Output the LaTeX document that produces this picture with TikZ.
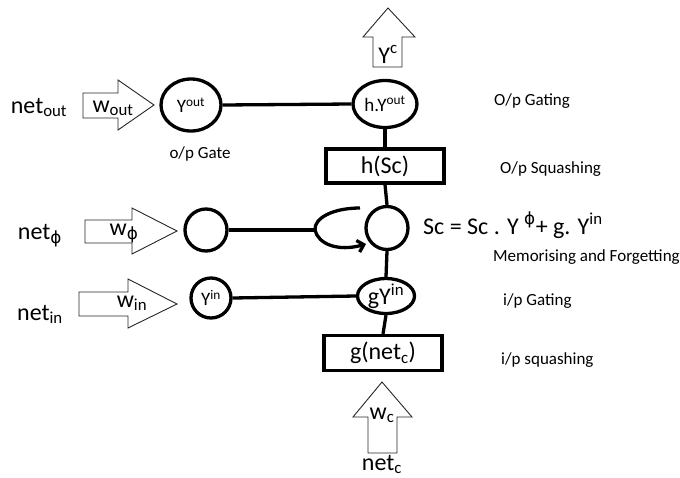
\documentclass[tikz,border=0pt]{standalone}
\usepackage{fontspec}
\setmainfont{Carlito}
\newfontfamily\dvphi{DejaVu Sans}
\newcommand{\phisym}{{\dvphi ϕ}}
\usetikzlibrary{shapes.geometric,arrows.meta}
\begin{document}
\begin{tikzpicture}[x=1pt,y=-1pt,
  thickln/.style={line width=3.3pt,black},
  blk/.style={draw=black!85,line width=0.9pt,fill=white},
  rnd/.style={ellipse,draw,line width=3.3pt,inner sep=0pt},
  sqbox/.style={rectangle,draw,line width=3.3pt,inner sep=0pt},
  big/.style={font=\fontsize{24}{28}\selectfont},
  mid/.style={font=\fontsize{19}{22}\selectfont},
  lbl/.style={font=\fontsize{17}{20}\selectfont,anchor=base west,inner sep=0pt},
  txt/.style={inner sep=0pt,anchor=base}]
\useasboundingbox (0,0) rectangle (680,477);

% ---- block arrows ----
\draw[blk] (83,93) -- (118,93) -- (118,80) -- (154,105) -- (118,130) -- (118,118) -- (83,118) -- cycle;
\draw[blk] (85,220) -- (132,220) -- (132,208) -- (177,231) -- (132,254) -- (132,243) -- (85,243) -- cycle;
\draw[blk] (79,292) -- (128,292) -- (128,279) -- (177,304) -- (128,328) -- (128,316) -- (79,316) -- cycle;
\draw[blk] (373,67) -- (373,37) -- (363,37) -- (388,8) -- (415,37) -- (402,37) -- (402,67) -- cycle;
\draw[blk] (368,453) -- (368,417) -- (353,417) -- (382,382) -- (412,417) -- (397,417) -- (397,453) -- cycle;

% ---- arrow texts ----
\node[big,txt] (wout) at (113,112) {w\textsubscript{out}};
\node[big,txt] (wphi) at (124,235) {w\textsubscript{\phisym}};
\node[big,txt] (win) at (132,307) {w\textsubscript{in}};
\node[big,txt,fill=white,inner xsep=1pt] (wc) at (382,419) {w\textsubscript{c}};
\node[big,txt] (yc) at (388,63) {Y\textsuperscript{c}};

% ---- input names ----
\node[big,txt] (netout) at (39,113) {net\textsubscript{out}};
\node[big,txt] (netphi) at (40,239) {net\textsubscript{\phisym}};
\node[big,txt] (netin) at (40,320) {net\textsubscript{in}};
\node[big,txt] (netc) at (382,470) {net\textsubscript{c}};

% ---- gate units ----
\node[rnd,minimum width=60pt,minimum height=52pt,font=\fontsize{19}{22}\selectfont] (yout) at (191,105) {Y\textsuperscript{out}};
\node[rnd,minimum width=42pt,minimum height=42pt] (phi) at (206,230) {};
\node[rnd,minimum width=40pt,minimum height=40pt,font=\fontsize{19}{22}\selectfont] (yin) at (211,298) {Y\textsuperscript{in}};

% ---- cell column ----
\node[rnd,minimum width=64pt,minimum height=47pt,mid] (hy) at (385,104) {h.Y\textsuperscript{out}};
\node[sqbox,minimum width=118pt,minimum height=34pt,big] (hsc) at (385,166) {h(Sc)};
\node[rnd,minimum width=42pt,minimum height=43pt] (sc) at (387,228) {};
\node[rnd,minimum width=57pt,minimum height=32pt,big] (gy) at (386,296) {gY\textsuperscript{in}};
\node[sqbox,minimum width=118pt,minimum height=35pt,big] (gnet) at (383,353) {g(net\textsubscript{c})};

% ---- connectors ----
\draw[thickln] (yout.east) -- (hy.west);
\draw[thickln] (hy.south) -- (hsc.north);
\draw[thickln] (hsc.south) -- (sc.north);
\draw[thickln] (sc.south) -- (gy.north);
\draw[thickln] (gy.south) -- (gnet.north);
\draw[thickln] (yin.east) -- (gy.west);
\coordinate (loopL) at (315,230);
\coordinate (loopT) at (360,208);
\coordinate (loopE) at (366,244);
\draw[thickln] (phi.east) -- (loopL);
\draw[thickln,-{Straight Barb[length=6pt,width=12pt]}] (loopT) .. controls (333,208) and (314,218) .. (loopL) .. controls (318,244) and (338,252) .. (loopE);

% ---- labels ----
\node[lbl,anchor=base] (opgate) at (200,158) {o/p Gate};
\node[lbl] (l1) at (494,105) {O/p Gating};
\node[lbl] (l2) at (500,173) {O/p Squashing};
\node[big,anchor=base west,inner sep=0pt] (eq) at (423,234) {Sc = Sc . Y \textsuperscript{\phisym}+ g. Y\textsuperscript{in}};
\node[lbl] (l3) at (493,261) {Memorising and Forgetting};
\node[lbl] (l4) at (503,305) {i/p Gating};
\node[lbl] (l5) at (501,364) {i/p squashing};
\end{tikzpicture}
\end{document}
